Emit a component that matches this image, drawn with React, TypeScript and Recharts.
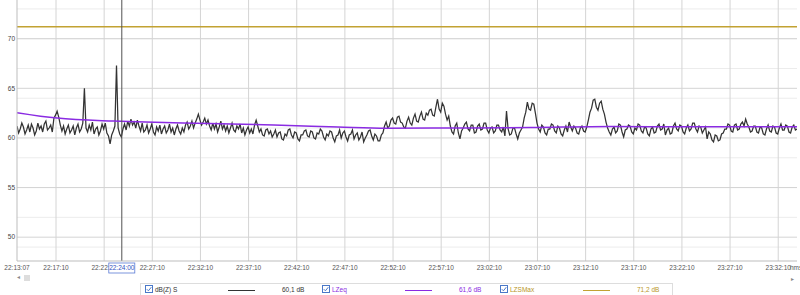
import React from 'react';
import { LineChart, Line, XAxis, YAxis, CartesianGrid, ReferenceLine } from 'recharts';

// time axis is seconds since the first sample (22:13:07)
const startClock = 22 * 3600 + 13 * 60 + 7;
const stepSeconds = 10;
const endSeconds = 4860;

// dB(Z) S, one reading per 10 s (20 per row)
const levelDbZ = [
  61.2, 60.5, 60.9, 61.5, 61.1, 60.4, 60.8, 61.3, 60.6, 61.4, 61.0, 60.3, 60.7, 61.5, 60.9, 61.2, 60.6, 61.4, 61.7, 60.8,
  61.0, 61.3, 60.6, 62.0, 62.3, 62.7, 62.1, 61.3, 60.7, 61.2, 60.4, 60.9, 61.3, 60.5, 60.8, 61.2, 60.3, 61.0, 61.4, 60.6,
  60.9, 61.5, 65.0, 61.0, 60.6, 61.3, 60.8, 61.6, 60.4, 60.9, 61.1, 60.3, 60.7, 61.4, 60.9, 61.5, 60.5, 60.2, 59.4, 60.3,
  60.7, 61.2, 67.3, 61.0, 60.4, 60.1, 60.9, 61.4, 60.8, 61.7, 61.2, 61.9, 61.3, 61.6, 61.0, 61.8, 61.2, 60.7, 61.5, 60.6,
  60.8, 61.3, 60.5, 60.9, 61.4, 60.6, 60.3, 61.1, 60.7, 61.3, 60.4, 60.9, 61.2, 60.5, 60.8, 61.4, 60.6, 61.0, 60.3, 60.9,
  61.3, 60.7, 60.4, 61.0, 60.6, 61.3, 61.6, 60.9, 61.2, 61.7, 61.0, 61.5, 61.9, 62.4, 61.8, 61.3, 61.6, 62.0, 61.4, 61.8,
  61.2, 60.8, 61.5, 60.9, 61.4, 60.6, 61.1, 61.7, 60.9, 61.3, 60.7, 61.2, 60.5, 61.0, 61.5, 60.8, 60.6, 61.2, 60.9, 61.4,
  60.5, 61.0, 60.3, 60.8, 61.1, 60.5, 60.9, 60.4, 61.3, 61.8, 61.2, 60.6, 60.9, 60.3, 60.2, 60.8, 60.9, 60.4, 60.7, 60.1,
  60.4, 60.8, 60.1, 60.5, 60.6, 59.9, 59.8, 60.4, 60.2, 60.8, 60.9, 60.3, 60.0, 60.6, 60.5, 59.9, 59.7, 60.3, 60.3, 60.7,
  60.8, 60.2, 60.1, 60.7, 60.6, 60.0, 59.9, 60.5, 60.4, 60.9, 60.7, 60.1, 59.8, 60.4, 60.2, 60.7, 60.6, 60.0, 59.6, 60.2,
  60.3, 60.8, 60.0, 60.5, 60.7, 60.1, 59.7, 60.3, 60.4, 60.8, 59.9, 60.3, 60.5, 59.8, 60.1, 60.6, 59.6, 60.0, 60.3, 60.7,
  60.8, 60.2, 59.8, 60.4, 60.2, 59.7, 59.7, 60.3, 60.5, 61.2, 61.6, 61.0, 61.2, 61.8, 62.0, 61.5, 61.4, 62.1, 62.2, 61.6,
  61.5, 61.1, 61.0, 61.7, 62.1, 61.5, 61.3, 62.0, 62.4, 61.7, 61.6, 62.2, 62.6, 61.9, 61.8, 62.5, 62.3, 62.8, 62.9, 62.3,
  62.2, 63.1, 63.9, 62.9, 62.6, 63.5, 63.2, 62.4, 61.8, 62.2, 61.2, 60.6, 60.4, 61.2, 61.5, 60.5, 59.9, 60.7, 61.0, 61.4,
  61.6, 60.9, 60.7, 61.3, 61.3, 60.5, 60.6, 61.2, 61.4, 60.8, 60.9, 61.5, 61.5, 60.8, 60.5, 61.0, 61.1, 60.5, 60.7, 61.3,
  61.3, 60.8, 60.6, 61.1, 60.2, 62.7, 60.9, 60.3, 60.4, 61.0, 61.0, 60.4, 59.9, 60.5, 60.8, 61.1, 62.0, 62.6, 63.6, 62.9,
  62.8, 63.5, 63.4, 62.5, 61.5, 60.9, 60.6, 61.3, 61.1, 60.5, 60.3, 60.9, 60.9, 61.4, 61.3, 60.7, 60.5, 61.2, 61.0, 60.4,
  60.2, 60.8, 61.2, 60.6, 61.6, 61.1, 60.7, 61.2, 61.0, 60.5, 60.4, 61.0, 61.2, 60.7, 60.6, 61.1, 61.8, 62.6, 63.0, 63.8,
  63.9, 63.1, 62.8, 63.5, 63.7, 62.9, 62.4, 61.6, 61.0, 60.6, 60.3, 60.9, 61.1, 60.5, 60.7, 61.4, 61.3, 60.6, 60.1, 60.8,
  60.9, 61.3, 61.2, 60.6, 60.4, 61.0, 60.8, 61.4, 61.3, 60.7, 60.5, 61.1, 61.0, 60.4, 60.2, 60.9, 61.1, 60.5, 60.6, 61.2,
  61.4, 60.8, 60.9, 61.4, 60.3, 60.8, 61.0, 60.4, 60.5, 61.2, 61.5, 60.9, 60.7, 61.3, 61.2, 60.6, 60.4, 61.0, 61.3, 60.7,
  60.9, 61.5, 61.5, 60.9, 60.6, 61.2, 61.1, 60.5, 60.8, 61.1, 59.9, 60.6, 60.4, 59.8, 59.6, 60.3, 60.2, 59.7, 59.8, 60.4,
  60.5, 60.9, 60.9, 61.4, 61.3, 60.7, 60.6, 61.3, 61.4, 60.8, 60.9, 61.4, 61.6, 61.2, 61.9, 61.4, 61.1, 60.6, 60.7, 61.2,
  61.2, 60.6, 60.5, 61.1, 61.0, 60.4, 60.3, 60.9, 61.3, 60.7, 60.6, 61.2, 61.1, 60.5, 60.4, 61.0, 61.4, 60.8, 60.8, 61.3,
  61.2, 60.6, 60.5, 61.1, 61.3, 60.8, 60.9,
];

// running LZeq
const lzeqTimes = [0, 250, 600, 800, 1200, 1600, 2000, 2300, 2700, 3200, 3700, 4200, 4860];
const lzeqValues = [62.55, 62.0, 61.7, 61.6, 61.45, 61.3, 61.1, 60.97, 61.0, 61.05, 61.15, 61.12, 61.12];

const lzsMax = 71.2;

const xTicks = [0, 243, 543, 843, 1143, 1443, 1743, 2043, 2343, 2643, 2943, 3243, 3543, 3843, 4143, 4443, 4743];
const cursorTime = 653;
const yTicks = [50, 55, 60, 65, 70];
const minorDbLines = [48, 49, 50, 51, 52, 53, 54, 55, 56, 57, 58, 59, 60, 61, 62, 63, 64, 65, 66, 67, 68, 69, 70, 71, 72, 73];

const legendNames = ['dB(Z) S', 'LZeq', 'LZSMax'];
const legendValues = ['60,1 dB', '61,6 dB', '71,2 dB'];

const dbzData = levelDbZ.map((v, i) => ({ t: i * stepSeconds, v }));
const lzeqData = lzeqTimes.map((t, i) => ({ t, v: lzeqValues[i] }));
const maxData = [{ t: 0, v: lzsMax }, { t: endSeconds, v: lzsMax }];

const COLORS = ['#333333', '#8a2be2', '#c2a232'];
const TEXT = ['#333', '#8a2be2', '#b8961f'];
const FONT = "'Liberation Sans', Arial, sans-serif";

const clock = (s: number) => {
  const c = startClock + s;
  const h = Math.floor(c / 3600);
  const m = Math.floor((c % 3600) / 60);
  const sec = c % 60;
  const p = (n: number) => String(n).padStart(2, '0');
  return `${p(h)}:${p(m)}:${p(sec)}`;
};

const TimeTick = (props: any) => {
  const { x, y, payload } = props;
  const label = clock(payload.value);
  if (payload.value === cursorTime) {
    return (
      <g>
        <rect x={x - 13} y={y + 2} width={26} height={10} fill="#fff" stroke="#5b7bd5" strokeWidth={0.8} />
        <text x={x} y={y + 9.3} textAnchor="middle" fontSize={6.5} fontFamily={FONT} fill="#3050c0">
          {label}
        </text>
      </g>
    );
  }
  return (
    <text x={x} y={y + 9} textAnchor="middle" fontSize={6.5} fontFamily={FONT} fill="#555">
      {label}
    </text>
  );
};

const CheckBox = () => (
  <svg width={8} height={8} style={{ position: 'absolute', top: 2 }}>
    <rect x={0.5} y={0.5} width={7} height={7} fill="#fff" stroke="#4a78c8" />
    <path d="M1.8 4.2 L3.4 5.8 L6.3 2.2" fill="none" stroke="#4a78c8" strokeWidth={1} />
  </svg>
);

const legendX = [145, 322, 500];

const App = () => {
  return (
    <div style={{ position: 'absolute', left: 0, top: 0, width: 800, height: 295, background: '#fff', overflow: 'hidden', fontFamily: FONT }}>
      <LineChart width={800} height={295} margin={{ top: 0, right: 3, bottom: 14, left: 0 }}>
        <CartesianGrid horizontalValues={minorDbLines} vertical={false} stroke="#ececec" strokeWidth={1} />
        <CartesianGrid
          horizontalValues={yTicks}
          verticalValues={xTicks.filter((t) => t !== 0)}
          stroke="#d4d4d4"
          strokeWidth={1}
        />
        <XAxis
          type="number"
          dataKey="t"
          domain={[0, endSeconds]}
          allowDataOverflow
          ticks={[...xTicks, cursorTime]}
          interval={0}
          tick={<TimeTick />}
          tickLine={false}
          tickSize={0}
          tickMargin={0}
          height={20}
          axisLine={{ stroke: '#bdbdbd' }}
        />
        <YAxis
          type="number"
          domain={[47.6, 73.9]}
          allowDataOverflow
          ticks={yTicks}
          width={17}
          tickLine={false}
          tickSize={0}
          tickMargin={2}
          tick={{ fontSize: 6.5, fill: '#444', fontFamily: FONT }}
          axisLine={{ stroke: '#bdbdbd' }}
        />
        <Line data={maxData} dataKey="v" type="linear" stroke={COLORS[2]} strokeWidth={1.6} dot={false} isAnimationActive={false} />
        <Line data={dbzData} dataKey="v" type="linear" stroke={COLORS[0]} strokeWidth={1.25} dot={false} isAnimationActive={false} />
        <Line data={lzeqData} dataKey="v" type="monotone" stroke={COLORS[1]} strokeWidth={1.5} dot={false} isAnimationActive={false} />
        <ReferenceLine x={cursorTime} stroke="#505050" strokeWidth={1} />
      </LineChart>
      <div style={{ position: 'absolute', left: 790, top: 264, fontSize: 6.5, lineHeight: '8px', color: '#555' }}>hms</div>
      <div style={{ position: 'absolute', left: 17, top: 273, fontSize: 6, color: '#888' }}>◂</div>
      <div style={{ position: 'absolute', left: 24, top: 275, width: 6, height: 6, background: '#ddd' }} />
      <div style={{ position: 'absolute', left: 791, top: 275, fontSize: 6, color: '#888' }}>▸</div>
      <div style={{ position: 'absolute', left: 140, top: 283, width: 533, height: 20, border: '1px solid #ddd', boxSizing: 'border-box' }} />
      {legendNames.map((name, i) => (
        <div key={name} style={{ position: 'absolute', left: legendX[i], top: 283, height: 12, width: 170, fontSize: 6.5, color: TEXT[i] }}>
          <CheckBox />
          <span style={{ position: 'absolute', left: 10, top: 3 }}>{name}</span>
          <div style={{ position: 'absolute', left: 83, top: 6.5, width: 27, height: 1.5, background: COLORS[i] }} />
          <span style={{ position: 'absolute', left: 137, top: 3 }}>{legendValues[i]}</span>
        </div>
      ))}
    </div>
  );
};

export default App;
